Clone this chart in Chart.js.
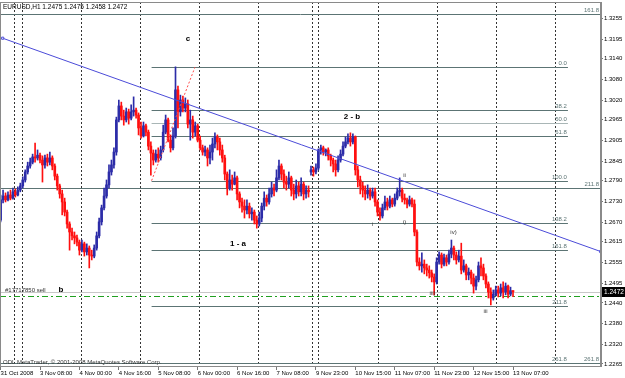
<!DOCTYPE html>
<html>
<head>
<meta charset="utf-8">
<script src="https://cdn.jsdelivr.net/npm/chart.js@4.4.1/dist/chart.umd.min.js"></script>
<style>
  html, body { margin: 0; padding: 0; background: #fff; }
  canvas { display: block; }
</style>
</head>
<body>
<canvas id="chart" width="625" height="378"></canvas>
<script>
// EURUSD H1 candles, bar index 0 = 31 Oct 2008, last = 13 Nov 08:00
const opens = [
  1.2677, 1.2735, 1.2746, 1.2735, 1.2749, 1.2740, 1.2758, 1.2749, 1.2763, 1.2775,
  1.2792, 1.2815, 1.2832, 1.2843, 1.2858, 1.2855, 1.2863, 1.2849, 1.2835, 1.2855,
  1.2843, 1.2855, 1.2832, 1.2803, 1.2775, 1.2752, 1.2729, 1.2700, 1.2666, 1.2643,
  1.2632, 1.2626, 1.2614, 1.2591, 1.2609, 1.2586, 1.2597, 1.2577, 1.2574, 1.2597,
  1.2632, 1.2672, 1.2712, 1.2746, 1.2778, 1.2815, 1.2835, 1.2872, 1.2964, 1.3004,
  1.2975, 1.2964, 1.2987, 1.2969, 1.2987, 1.2992, 1.2978, 1.2941, 1.2918, 1.2947,
  1.2929, 1.2889, 1.2869, 1.2849, 1.2866, 1.2855, 1.2878, 1.2929, 1.2964, 1.2906,
  1.2884, 1.2918, 1.3050, 1.2987, 1.3021, 1.2998, 1.3010, 1.2952, 1.2964, 1.2929,
  1.2947, 1.2906, 1.2884, 1.2872, 1.2878, 1.2855, 1.2872, 1.2895, 1.2915, 1.2901,
  1.2878, 1.2855, 1.2809, 1.2769, 1.2792, 1.2780, 1.2798, 1.2752, 1.2729, 1.2717,
  1.2706, 1.2717, 1.2695, 1.2700, 1.2677, 1.2666, 1.2683, 1.2717, 1.2740, 1.2729,
  1.2752, 1.2769, 1.2763, 1.2798, 1.2832, 1.2809, 1.2786, 1.2780, 1.2798, 1.2763,
  1.2752, 1.2775, 1.2758, 1.2780, 1.2752, 1.2763, 1.2815, 1.2821, 1.2815, 1.2826,
  1.2878, 1.2884, 1.2872, 1.2878, 1.2861, 1.2849, 1.2838, 1.2821, 1.2849, 1.2866,
  1.2889, 1.2901, 1.2912, 1.2901, 1.2915, 1.2821, 1.2792, 1.2775, 1.2763, 1.2752,
  1.2763, 1.2746, 1.2758, 1.2729, 1.2700, 1.2689, 1.2712, 1.2729, 1.2717, 1.2735,
  1.2723, 1.2740, 1.2758, 1.2763, 1.2740, 1.2735, 1.2723, 1.2735, 1.2723, 1.2643,
  1.2557, 1.2546, 1.2551, 1.2540, 1.2534, 1.2526, 1.2514, 1.2500, 1.2557, 1.2577,
  1.2551, 1.2569, 1.2557, 1.2580, 1.2597, 1.2577, 1.2563, 1.2574, 1.2534, 1.2546,
  1.2520, 1.2528, 1.2511, 1.2488, 1.2506, 1.2546, 1.2540, 1.2517, 1.2494, 1.2471,
  1.2454, 1.2465, 1.2477, 1.2468, 1.2483, 1.2471, 1.2488, 1.2465, 1.2475
];
const highs = [
  1.2749, 1.2763, 1.2755, 1.2758, 1.2763, 1.2769, 1.2766, 1.2772, 1.2783, 1.2801,
  1.2821, 1.2843, 1.2855, 1.2866, 1.2898, 1.2878, 1.2869, 1.2861, 1.2863, 1.2866,
  1.2872, 1.2861, 1.2838, 1.2809, 1.2780, 1.2763, 1.2740, 1.2706, 1.2672, 1.2654,
  1.2643, 1.2634, 1.2620, 1.2620, 1.2614, 1.2609, 1.2603, 1.2591, 1.2606, 1.2643,
  1.2683, 1.2720, 1.2769, 1.2792, 1.2835, 1.2849, 1.2884, 1.2972, 1.3021, 1.3015,
  1.2992, 1.2998, 1.2995, 1.3007, 1.3030, 1.2998, 1.2984, 1.2958, 1.2958, 1.2952,
  1.2935, 1.2901, 1.2878, 1.2878, 1.2884, 1.2889, 1.2949, 1.2978, 1.2969, 1.2921,
  1.2941, 1.3116, 1.3061, 1.3035, 1.3032, 1.3027, 1.3021, 1.2992, 1.2975, 1.2958,
  1.2952, 1.2918, 1.2892, 1.2889, 1.2884, 1.2892, 1.2912, 1.2927, 1.2921, 1.2912,
  1.2892, 1.2863, 1.2815, 1.2821, 1.2806, 1.2815, 1.2803, 1.2758, 1.2740, 1.2735,
  1.2735, 1.2726, 1.2712, 1.2706, 1.2689, 1.2700, 1.2726, 1.2758, 1.2749, 1.2769,
  1.2786, 1.2780, 1.2821, 1.2849, 1.2838, 1.2821, 1.2803, 1.2815, 1.2803, 1.2780,
  1.2792, 1.2786, 1.2798, 1.2786, 1.2775, 1.2775, 1.2832, 1.2829, 1.2838, 1.2881,
  1.2892, 1.2889, 1.2881, 1.2884, 1.2866, 1.2855, 1.2849, 1.2861, 1.2878, 1.2901,
  1.2915, 1.2924, 1.2927, 1.2924, 1.2918, 1.2832, 1.2803, 1.2786, 1.2775, 1.2778,
  1.2769, 1.2769, 1.2769, 1.2735, 1.2712, 1.2723, 1.2746, 1.2740, 1.2746, 1.2740,
  1.2752, 1.2769, 1.2798, 1.2769, 1.2752, 1.2740, 1.2746, 1.2740, 1.2735, 1.2649,
  1.2569, 1.2583, 1.2563, 1.2551, 1.2546, 1.2534, 1.2523, 1.2569, 1.2586, 1.2583,
  1.2580, 1.2577, 1.2591, 1.2620, 1.2603, 1.2586, 1.2591, 1.2611, 1.2563, 1.2551,
  1.2540, 1.2534, 1.2523, 1.2517, 1.2557, 1.2569, 1.2551, 1.2523, 1.2500, 1.2483,
  1.2477, 1.2488, 1.2488, 1.2494, 1.2500, 1.2497, 1.2491, 1.2485, 1.2475
];
const lows = [
  1.2672, 1.2726, 1.2729, 1.2732, 1.2735, 1.2737, 1.2743, 1.2746, 1.2758, 1.2769,
  1.2786, 1.2809, 1.2826, 1.2838, 1.2843, 1.2849, 1.2841, 1.2786, 1.2826, 1.2832,
  1.2835, 1.2821, 1.2792, 1.2763, 1.2740, 1.2692, 1.2689, 1.2654, 1.2591, 1.2620,
  1.2609, 1.2603, 1.2577, 1.2586, 1.2574, 1.2577, 1.2540, 1.2563, 1.2569, 1.2591,
  1.2626, 1.2663, 1.2706, 1.2740, 1.2769, 1.2806, 1.2826, 1.2863, 1.2958, 1.2964,
  1.2949, 1.2958, 1.2952, 1.2964, 1.2975, 1.2969, 1.2921, 1.2912, 1.2915, 1.2918,
  1.2878, 1.2806, 1.2835, 1.2843, 1.2843, 1.2849, 1.2872, 1.2924, 1.2901, 1.2872,
  1.2878, 1.2912, 1.2941, 1.2975, 1.2987, 1.2987, 1.2941, 1.2906, 1.2912, 1.2918,
  1.2901, 1.2878, 1.2863, 1.2861, 1.2832, 1.2838, 1.2849, 1.2884, 1.2878, 1.2863,
  1.2843, 1.2792, 1.2749, 1.2763, 1.2763, 1.2778, 1.2735, 1.2712, 1.2700, 1.2683,
  1.2695, 1.2683, 1.2677, 1.2666, 1.2654, 1.2660, 1.2672, 1.2706, 1.2717, 1.2723,
  1.2743, 1.2746, 1.2758, 1.2792, 1.2792, 1.2769, 1.2763, 1.2769, 1.2746, 1.2735,
  1.2740, 1.2746, 1.2746, 1.2735, 1.2740, 1.2743, 1.2806, 1.2803, 1.2809, 1.2821,
  1.2866, 1.2863, 1.2861, 1.2849, 1.2832, 1.2815, 1.2803, 1.2815, 1.2843, 1.2861,
  1.2884, 1.2895, 1.2889, 1.2895, 1.2806, 1.2772, 1.2752, 1.2743, 1.2735, 1.2740,
  1.2735, 1.2740, 1.2717, 1.2689, 1.2677, 1.2683, 1.2706, 1.2706, 1.2712, 1.2715,
  1.2717, 1.2735, 1.2746, 1.2729, 1.2723, 1.2712, 1.2717, 1.2715, 1.2632, 1.2546,
  1.2534, 1.2528, 1.2523, 1.2517, 1.2511, 1.2500, 1.2463, 1.2494, 1.2551, 1.2540,
  1.2546, 1.2546, 1.2551, 1.2569, 1.2563, 1.2551, 1.2557, 1.2523, 1.2528, 1.2506,
  1.2506, 1.2494, 1.2468, 1.2477, 1.2500, 1.2517, 1.2506, 1.2483, 1.2454, 1.2434,
  1.2448, 1.2460, 1.2457, 1.2460, 1.2454, 1.2463, 1.2454, 1.2460, 1.2458
];
const closes = [
  1.2735, 1.2746, 1.2735, 1.2749, 1.2740, 1.2758, 1.2749, 1.2763, 1.2775, 1.2792,
  1.2815, 1.2832, 1.2843, 1.2858, 1.2855, 1.2863, 1.2849, 1.2835, 1.2855, 1.2843,
  1.2855, 1.2832, 1.2803, 1.2775, 1.2752, 1.2729, 1.2700, 1.2666, 1.2643, 1.2632,
  1.2626, 1.2614, 1.2591, 1.2609, 1.2586, 1.2597, 1.2577, 1.2574, 1.2597, 1.2632,
  1.2672, 1.2712, 1.2746, 1.2778, 1.2815, 1.2835, 1.2872, 1.2964, 1.3004, 1.2975,
  1.2964, 1.2987, 1.2969, 1.2987, 1.2992, 1.2978, 1.2941, 1.2918, 1.2947, 1.2929,
  1.2889, 1.2869, 1.2849, 1.2866, 1.2855, 1.2878, 1.2929, 1.2964, 1.2906, 1.2884,
  1.2918, 1.3050, 1.2987, 1.3021, 1.2998, 1.3010, 1.2952, 1.2964, 1.2929, 1.2947,
  1.2906, 1.2884, 1.2872, 1.2878, 1.2855, 1.2872, 1.2895, 1.2915, 1.2901, 1.2878,
  1.2855, 1.2809, 1.2769, 1.2792, 1.2780, 1.2798, 1.2752, 1.2729, 1.2717, 1.2706,
  1.2717, 1.2695, 1.2700, 1.2677, 1.2666, 1.2683, 1.2717, 1.2740, 1.2729, 1.2752,
  1.2769, 1.2763, 1.2798, 1.2832, 1.2809, 1.2786, 1.2780, 1.2798, 1.2763, 1.2752,
  1.2775, 1.2758, 1.2780, 1.2752, 1.2763, 1.2758, 1.2821, 1.2815, 1.2826, 1.2878,
  1.2884, 1.2872, 1.2878, 1.2861, 1.2849, 1.2838, 1.2821, 1.2849, 1.2866, 1.2889,
  1.2901, 1.2912, 1.2901, 1.2915, 1.2821, 1.2792, 1.2775, 1.2763, 1.2752, 1.2763,
  1.2746, 1.2758, 1.2729, 1.2700, 1.2689, 1.2712, 1.2729, 1.2717, 1.2735, 1.2723,
  1.2740, 1.2758, 1.2763, 1.2740, 1.2735, 1.2723, 1.2735, 1.2723, 1.2643, 1.2557,
  1.2546, 1.2551, 1.2540, 1.2534, 1.2526, 1.2514, 1.2500, 1.2557, 1.2577, 1.2551,
  1.2569, 1.2557, 1.2580, 1.2597, 1.2577, 1.2563, 1.2574, 1.2534, 1.2546, 1.2520,
  1.2528, 1.2511, 1.2488, 1.2506, 1.2546, 1.2540, 1.2517, 1.2494, 1.2471, 1.2454,
  1.2465, 1.2477, 1.2468, 1.2483, 1.2471, 1.2488, 1.2465, 1.2475, 1.2472
];

// time axis labels (bar index -> text), day separators (bar index)
const timeIdx = [0, 16, 32, 48, 64, 80, 96, 112, 128, 144, 160, 176, 192, 208];
const timeLabels = ['31 Oct 2008', '3 Nov 08:00', '4 Nov 00:00', '4 Nov 16:00', '5 Nov 08:00',
  '6 Nov 00:00', '6 Nov 16:00', '7 Nov 08:00', '9 Nov 23:00', '10 Nov 15:00',
  '11 Nov 07:00', '11 Nov 23:00', '12 Nov 15:00', '13 Nov 07:00'];
const daySeps = [5.5, 8.5, 32.5, 56.5, 80.5, 104.5, 126.3, 129, 153.3, 177, 201, 225];

// price axis labels as MetaTrader prints them
const priceLabels = ['1.3255', '1.3195', '1.3140', '1.3080', '1.3020', '1.2965', '1.2905', '1.2845',
  '1.2790', '1.2730', '1.2670', '1.2615', '1.2555', '1.2495', '1.2440', '1.2380', '1.2320', '1.2265'];

// fibo set drawn from the c swing (bars 61..230)
const fibNames  = ['0.0', '38.2', '50.0', '61.8', '100.0', '138.2', '161.8', '211.8', '261.8'];
const fibPrices = [1.3115, 1.2992, 1.2954, 1.2917, 1.2790, 1.2668, 1.2592, 1.2431, 1.2268];
const fibSpan   = [61.3, 230.3];
// wider fibo set across the whole chart
const fib2Names  = ['161.8', '211.8', '261.8'];
const fib2Prices = [1.3267, 1.2768, 1.2268];

const trendX = [0.85, 243.6], trendY = [1.3198, 1.2587];
const fibBaseX = [61.3, 78.9], fibBaseY = [1.2790, 1.3115];

const bidPrice = 1.2472;
const orderPrice = 1.2461;

const FONT = "'Liberation Sans', Arial, sans-serif";
const BLUE = '#2c2ca8', RED = '#ff1010';
const FIB = '#5c7474';

const idx = closes.map((c, i) => i);
const candleColor = idx.map(i => closes[i] >= opens[i] ? BLUE : RED);

function line(ctx, x1, y1, x2, y2) {
  ctx.beginPath(); ctx.moveTo(x1, y1); ctx.lineTo(x2, y2); ctx.stroke();
}

// kill the extra padding chart.js reserves for edge labels
function fixSize(w, h) {
  return s => {
    if (w) s.width = w;
    if (h) s.height = h;
    s.paddingLeft = s.paddingRight = s.paddingTop = s.paddingBottom = 0;
  };
}

const overlay = {
  id: 'overlay',
  beforeDatasetsDraw(chart) {
    const { ctx, chartArea: a, scales: { x, y } } = chart;
    ctx.save();
    ctx.lineWidth = 1;

    // day separators
    ctx.strokeStyle = '#333';
    ctx.setLineDash([2, 2]);
    daySeps.forEach(v => {
      const px = Math.round(x.getPixelForValue(v)) + 0.5;
      line(ctx, px, a.top, px, a.bottom);
    });
    ctx.setLineDash([]);

    // bid line
    ctx.strokeStyle = '#c8c8c8';
    let py = Math.round(y.getPixelForValue(bidPrice)) + 0.5;
    line(ctx, a.left, py, a.right, py);

    // fibo lines
    ctx.font = '6px ' + FONT;
    ctx.textAlign = 'right';
    ctx.textBaseline = 'bottom';
    const fx1 = x.getPixelForValue(fibSpan[0]), fx2 = x.getPixelForValue(fibSpan[1]);
    fibPrices.forEach((p, k) => {
      py = Math.round(y.getPixelForValue(p)) + 0.5;
      ctx.strokeStyle = fibNames[k] === '50.0' ? '#a9b6b6' : FIB;
      line(ctx, fx1, py, fx2, py);
      ctx.fillStyle = FIB;
      ctx.fillText(fibNames[k], fx2 - 1, py - 1);
    });
    fib2Prices.forEach((p, k) => {
      py = Math.round(y.getPixelForValue(p)) + 0.5;
      ctx.strokeStyle = FIB;
      line(ctx, a.left, py, a.right, py);
      ctx.fillStyle = FIB;
      ctx.fillText(fib2Names[k], a.right - 2, py - 1);
    });

    // order line
    ctx.strokeStyle = '#20a020';
    ctx.setLineDash([6, 3, 2, 3]);
    py = Math.round(y.getPixelForValue(orderPrice)) + 0.5;
    line(ctx, a.left, py, a.right, py);
    ctx.setLineDash([]);
    ctx.restore();
  },
  afterDraw(chart) {
    const { ctx, chartArea: a, scales: { y } } = chart;
    ctx.save();
    // frame
    ctx.strokeStyle = '#8a8a8a';
    ctx.lineWidth = 1;
    ctx.strokeRect(a.left + 0.5, a.top + 0.5, a.right - a.left - 1, a.bottom - a.top);

    ctx.fillStyle = '#000';
    ctx.textBaseline = 'middle';
    ctx.textAlign = 'left';
    ctx.font = '6.5px ' + FONT;
    ctx.fillText('EURUSD,H1 1.2475 1.2475 1.2458 1.2472', 3, 7);
    ctx.font = '6px ' + FONT;
    ctx.fillStyle = '#333';
    ctx.fillText('#17717850 sell', 5, 290.5);
    ctx.fillText('ODL MetaTrader, \u00a9 2001-2008 MetaQuotes Software Corp.', 3, 362.5);

    // wave counts
    ctx.fillStyle = '#000';
    ctx.font = 'bold 8px ' + FONT;
    ctx.textAlign = 'center';
    ctx.fillText('c', 188, 38.5);
    ctx.fillText('2 - b', 352, 117);
    ctx.fillText('1 - a', 238, 244);
    ctx.fillText('b', 61, 290);
    ctx.font = '6px ' + FONT;
    ctx.fillStyle = '#333';
    ctx.fillText('ii', 404.5, 175.5);
    ctx.fillText('i', 372.5, 224);
    ctx.fillText('i)', 404.5, 222.5);
    ctx.fillText('iv)', 453.5, 232);
    ctx.fillText('iii)', 432.5, 293);
    ctx.fillText('iii', 485.5, 311);

    // current price box
    const py = Math.round(y.getPixelForValue(bidPrice));
    ctx.fillStyle = '#000';
    ctx.fillRect(a.right + 1, py - 5, 24, 10);
    ctx.fillStyle = '#fff';
    ctx.textAlign = 'left';
    ctx.font = '6.5px ' + FONT;
    ctx.fillText(bidPrice.toFixed(4), a.right + 3, py);
    ctx.restore();
  }
};

new Chart(document.getElementById('chart'), {
  type: 'bar',
  data: {
    datasets: [
      {
        type: 'line',
        data: trendX.map((v, k) => ({ x: v, y: trendY[k] })),
        borderColor: '#4b4bd8',
        borderWidth: 1,
        pointStyle: 'rect',
        pointRadius: 1.5,
        pointBackgroundColor: '#fff',
        pointBorderColor: '#4b4bd8',
        tension: 0,
        order: -1
      },
      {
        type: 'line',
        data: fibBaseX.map((v, k) => ({ x: v, y: fibBaseY[k] })),
        borderColor: '#ff4a4a',
        borderWidth: 1,
        borderDash: [2, 2],
        pointRadius: 0,
        order: -1
      },
      {
        data: idx.map(i => ({ x: i, y: [opens[i], closes[i]] })),
        backgroundColor: candleColor,
        barThickness: 2,
        minBarLength: 1,
        grouped: false,
        order: 0
      },
      {
        data: idx.map(i => ({ x: i, y: [lows[i], highs[i]] })),
        backgroundColor: candleColor,
        barThickness: 1,
        grouped: false,
        order: 1
      }
    ]
  },
  options: {
    responsive: false,
    animation: false,
    devicePixelRatio: 1,
    layout: { autoPadding: false, padding: { top: 2, left: 0, right: 0, bottom: 0 } },
    plugins: { legend: { display: false }, tooltip: { enabled: false } },
    scales: {
      x: {
        type: 'linear',
        offset: false,
        min: -0.24,
        max: 243.72,
        afterBuildTicks: ax => { ax.ticks = timeIdx.map(v => ({ value: v })); },
        afterFit: fixSize(0, 12),
        ticks: {
          autoSkip: false,
          maxRotation: 0,
          align: 'start',
          padding: 0,
          color: '#000',
          font: { family: FONT, size: 6 },
          callback: (v, i) => timeLabels[i]
        },
        grid: { offset: false, drawOnChartArea: false, drawTicks: true, tickLength: 4, color: '#777' },
        border: { color: '#8a8a8a' }
      },
      y: {
        position: 'right',
        min: 1.22592,
        max: 1.33017,
        afterBuildTicks: ax => { ax.ticks = priceLabels.map(t => ({ value: parseFloat(t) })); },
        afterFit: fixSize(24, 0),
        ticks: {
          padding: 1,
          color: '#000',
          font: { family: FONT, size: 6 },
          callback: (v, i) => priceLabels[i]
        },
        grid: { drawOnChartArea: false, drawTicks: true, tickLength: 2, color: '#777' },
        border: { color: '#8a8a8a' }
      }
    }
  },
  plugins: [overlay]
});
</script>
</body>
</html>
